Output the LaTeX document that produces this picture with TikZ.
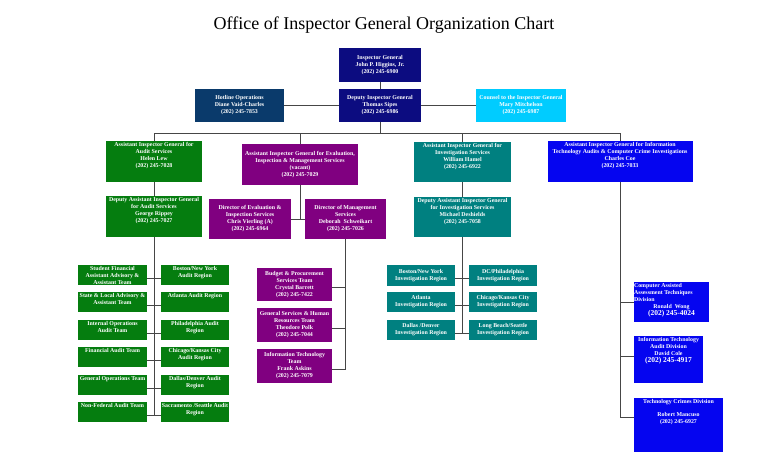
\documentclass[tikz,border=0pt]{standalone}
\usepackage{fontspec}
\setmainfont{Liberation Serif}
\usetikzlibrary{calc}
\definecolor{igNavy}{RGB}{12,12,128}
\definecolor{hotBlue}{RGB}{10,58,107}
\definecolor{counselCyan}{RGB}{0,204,255}
\definecolor{audGreen}{RGB}{5,125,15}
\definecolor{evalPurple}{RGB}{128,0,128}
\definecolor{invTeal}{RGB}{0,128,128}
\definecolor{itBlue}{RGB}{5,5,240}
\definecolor{linkGray}{RGB}{70,70,70}
\newcommand{\boxfont}{\fontsize{5.9}{7}\selectfont\bfseries}
\newcommand{\phonefont}{\fontsize{7.5}{8}\selectfont}
\newcommand{\toptext}[3]{\parbox[c][#2pt][t]{#1pt}{\centering\vspace*{1pt}#3}}
\tikzset{
	unit/.style={fill=#1,text=white,font=\boxfont,inner sep=0pt,outer sep=0pt},
	cbox/.style 2 args={minimum width=#1,minimum height=#2,align=center},
	link/.style={draw=linkGray,line width=1pt},
	title/.style={font=\fontsize{18}{20}\selectfont}
	}

\begin{document}
\begin{tikzpicture}[x=1pt,y=-1pt]
	\useasboundingbox (0,0) rectangle (768,466);
	\node[title] (title) at (384,25) {Office of Inspector General Organization Chart};

	% front office
	\node[unit=igNavy,cbox={82pt}{34pt}] (ig) at (380,65) {Inspector General\\John P. Higgins, Jr.\\(202) 245-6900};
	\node[unit=igNavy,cbox={82pt}{33pt}] (dig) at (380,105.5) {Deputy Inspector General\\Thomas Sipes\\(202) 245-6986};
	\node[unit=hotBlue,cbox={89pt}{33pt}] (hot) at (239.5,105.5) {Hotline Operations\\Diane Vaid-Charles\\(202) 245-7853};
	\node[unit=counselCyan,cbox={90pt}{33pt}] (cou) at (521,105.5) {Counsel to the Inspector General\\Mary Mitchelson\\(202) 245-6987};

	% assistant inspectors general
	\node[unit=audGreen] (aga) at (154,161.5) {\toptext{96}{41}{Assistant Inspector General for\\Audit Services\\Helen Lew\\(202) 245-7028}};
	\node[unit=evalPurple,cbox={116pt}{41pt}] (agm) at (300,164.5) {Assistant Inspector General for Evaluation,\\Inspection \& Management Services\\(vacant)\\(202) 245-7029};
	\node[unit=invTeal] (agi) at (462.5,162) {\toptext{97}{40}{Assistant Inspector General for\\Investigation Services\\William Hamel\\(202) 245-6922}};
	\node[unit=itBlue] (agt) at (620,161.5) {\toptext{145}{41}{Assistant Inspector General for Information\\Technology Audits \& Computer Crime Investigations\\Charles Coe\\(202) 245-7033}};

	% deputies and directors
	\node[unit=audGreen] (dga) at (154,216.5) {\toptext{96}{41}{Deputy Assistant Inspector General\\for Audit Services\\George Rippey\\(202) 245-7027}};
	\node[unit=evalPurple,cbox={82pt}{40pt}] (dev) at (250,219) {Director of Evaluation \&\\Inspection Services\\Chris Vierling (A)\\(202) 245-6964};
	\node[unit=evalPurple,cbox={81pt}{40pt}] (dmg) at (345.5,219) {Director of Management\\Services\\Deborah\ \ Schweikart\\(202) 245-7026};
	\node[unit=invTeal] (dgi) at (462.5,217) {\toptext{97}{40}{Deputy Assistant Inspector General\\for Investigation Services\\Michael Deshields\\(202) 245-7058}};

	% audit teams and regions
	\node[unit=audGreen] (gl1) at (112.5,275) {\toptext{69}{20}{Student Financial\\Assistant Advisory \&\\Assistant Team}};
	\node[unit=audGreen] (gl2) at (112.5,302) {\toptext{69}{20}{State \& Local Advisory \&\\Assistant Team}};
	\node[unit=audGreen] (gl3) at (112.5,330) {\toptext{69}{20}{Internal Operations\\Audit Team}};
	\node[unit=audGreen] (gl4) at (112.5,357) {\toptext{69}{20}{Financial Audit Team}};
	\node[unit=audGreen] (gl5) at (112.5,385) {\toptext{69}{20}{General Operations Team}};
	\node[unit=audGreen] (gl6) at (112.5,412) {\toptext{69}{20}{Non-Federal Audit Team}};
	\node[unit=audGreen] (gr1) at (195,275) {\toptext{68}{20}{Boston/New York\\Audit Region}};
	\node[unit=audGreen] (gr2) at (195,302) {\toptext{68}{20}{Atlanta Audit Region}};
	\node[unit=audGreen] (gr3) at (195,330) {\toptext{68}{20}{Philadelphia Audit\\Region}};
	\node[unit=audGreen] (gr4) at (195,357) {\toptext{68}{20}{Chicago/Kansas City\\Audit Region}};
	\node[unit=audGreen] (gr5) at (195,385) {\toptext{68}{20}{Dallas/Denver Audit\\Region}};
	\node[unit=audGreen] (gr6) at (195,412) {\toptext{68}{20}{Sacramento /Seattle Audit\\Region}};

	% management teams
	\node[unit=evalPurple,cbox={75pt}{33pt}] (pt1) at (294.5,284.5) {Budget \& Procurement\\Services Team\\Crystal Barrett\\(202) 245-7422};
	\node[unit=evalPurple,cbox={75pt}{34pt}] (pt2) at (294.5,325) {General Services \& Human\\Resources Team\\Theodore Polk\\(202) 245-7044};
	\node[unit=evalPurple,cbox={75pt}{34pt}] (pt3) at (294.5,366) {Information Technology\\Team\\Frank Askins\\(202) 245-7079};

	% investigation regions
	\node[unit=invTeal,cbox={68pt}{21pt}] (tl1) at (421,275.5) {Boston/New York\\Investigation Region};
	\node[unit=invTeal,cbox={68pt}{20pt}] (tl2) at (421,302) {Atlanta\\Investigation Region};
	\node[unit=invTeal,cbox={68pt}{20pt}] (tl3) at (421,330) {Dallas /Denver\\Investigation Region};
	\node[unit=invTeal,cbox={68pt}{21pt}] (tr1) at (503,275.5) {DC/Philadelphia\\Investigation Region};
	\node[unit=invTeal,cbox={68pt}{20pt}] (tr2) at (503,302) {Chicago/Kansas City\\Investigation Region};
	\node[unit=invTeal,cbox={68pt}{20pt}] (tr3) at (503,330) {Long Beach/Seattle\\Investigation Region};

	% IT divisions
	\node[unit=itBlue] (bd1) at (671.5,302) {\toptext{75}{40}{\raggedright Computer Assisted\\Assessment Techniques\\Division\par\centering Ronald\ \ Wong\\{\phonefont (202) 245-4024}}};
	\node[unit=itBlue] (bd2) at (668.5,359.5) {\toptext{69}{47}{Information Technology\\Audit Division\\David Cole\\{\phonefont (202) 245-4917}}};
	\node[unit=itBlue] (bd3) at (678.5,425) {\toptext{89}{54}{Technology Crimes Division\\[6pt]Robert Mancuso\\(202) 245-6927}};

	% connectors
	\coordinate (bus) at (380,133);
	\draw[link] (ig) -- (dig);
	\draw[link] (hot) -- (dig);
	\draw[link] (cou) -- (dig);
	\draw[link] (dig) -- (bus);
	\draw[link] (bus) -| (aga);
	\draw[link] (bus) -| (agm);
	\draw[link] (bus) -| (agi);
	\draw[link] (bus) -| (agt);

	\draw[link] (aga) -- (dga);
	\draw[link] (agm) -- (agm |- dev.east);
	\draw[link] (dev) -- (dmg);
	\draw[link] (agi) -- (dgi);

	\draw[link] (dga) |- ([yshift=-3.5pt]gl6.east);
	\draw[link] ([yshift=-3.5pt]gl1.east) -- ([yshift=-3.5pt]gr1.west);
	\draw[link] ([yshift=-3.5pt]gl2.east) -- ([yshift=-3.5pt]gr2.west);
	\draw[link] ([yshift=-3.5pt]gl3.east) -- ([yshift=-3.5pt]gr3.west);
	\draw[link] ([yshift=-3.5pt]gl4.east) -- ([yshift=-3.5pt]gr4.west);
	\draw[link] ([yshift=-3.5pt]gl5.east) -- ([yshift=-3.5pt]gr5.west);
	\draw[link] ([yshift=-3.5pt]gl6.east) -- ([yshift=-3.5pt]gr6.west);

	\draw[link] (dmg) |- ([yshift=-3pt]pt1.east);
	\draw[link] (dmg) |- ([yshift=-3pt]pt2.east);
	\draw[link] (dmg) |- ([yshift=-3pt]pt3.east);

	\draw[link] (dgi) |- ([yshift=-3pt]tl3.east);
	\draw[link] ([yshift=-3pt]tl1.east) -- ([yshift=-3pt]tr1.west);
	\draw[link] ([yshift=-3pt]tl2.east) -- ([yshift=-3pt]tr2.west);
	\draw[link] ([yshift=-3pt]tl3.east) -- ([yshift=-3pt]tr3.west);

	\draw[link] (agt) |- (bd1);
	\draw[link] (agt) |- ([yshift=3.5pt]bd2.west);
	\draw[link] (agt) |- ([yshift=8pt]bd3.west);
\end{tikzpicture}
\end{document}
